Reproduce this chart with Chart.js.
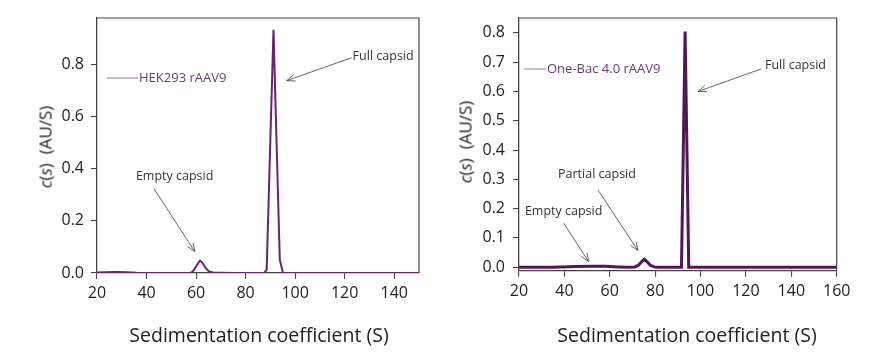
<!DOCTYPE html>
<html><head><meta charset="utf-8">
<script src="https://cdn.jsdelivr.net/npm/chart.js@4"></script>
<style>
html,body{margin:0;padding:0;background:#fff;}
#wrap{position:relative;width:886px;height:356px;overflow:hidden;font-family:"Open Sans",sans-serif;}
.panel{position:absolute;top:0;width:443px;height:356px;}
.xt{position:absolute;font-size:19.5px;color:#222;white-space:nowrap;transform:translate(-50%,-50%);}
.yt{position:absolute;font-size:17px;color:#222;white-space:nowrap;transform:translate(-50%,-50%) rotate(-90deg);}
</style></head>
<body><div id="wrap">
<div class="panel" style="left:0"><canvas id="c1" width="443" height="356"></canvas></div>
<div class="panel" style="left:443px"><canvas id="c2" width="443" height="356"></canvas></div>
<div class="xt" style="left:259px;top:334px">Sedimentation coefficient (S)</div>
<div class="xt" style="left:687px;top:334px">Sedimentation coefficient (S)</div>
<div class="yt" style="left:45px;top:147px"><i>c</i>(<i>s</i>)&nbsp;&nbsp;(AU/S)</div>
<div class="yt" style="left:465px;top:142px"><i>c</i>(<i>s</i>)&nbsp;&nbsp;(AU/S)</div>
</div>
<script>
// ---- Data ----
const HEK_S = [20,23,28,32,36,40,50,57,58.2,59,60,61,61.6,62.5,63.5,64.5,65.5,67,70,75,80,87.5,88.5,91.25,93.8,95.1,110,150];
const HEK_C = [0.002,0.003,0.004,0.003,0.001,0,0,0,0.002,0.01,0.025,0.04,0.047,0.04,0.025,0.012,0.005,0.002,0.001,0,0,0,0.013,0.932,0.05,0,0,0];
const BAC_S = [20,35,45,52,58,64,68,71,72.5,74,75.2,76.5,78,79.5,81,91.6,93.2,94.8,100,160];
const BAC_C = [0,0,0.002,0.003,0.003,0.001,0,0.001,0.006,0.018,0.027,0.018,0.006,0.001,0,0,0.805,0,0,0];

const HEK_XTICKS = [20,40,60,80,100,120,140];
const HEK_YTICKS = [0,0.2,0.4,0.6,0.8];
const BAC_XTICKS = [20,40,60,80,100,120,140,160];
const BAC_YTICKS = [0,0.1,0.2,0.3,0.4,0.5,0.6,0.7,0.8];

const HEK_LABEL = 'HEK293 rAAV9';
const BAC_LABEL = 'One-Bac 4.0 rAAV9';

// annotations: text anchor (left-middle) and arrow from -> to, in data units
const HEK_ANN = [
  {text:'Full capsid', tx:123.2, ty:0.829, x1:122.8, y1:0.825, x2:96.6, y2:0.737},
  {text:'Empty capsid', tx:35.7, ty:0.369, x1:43, y1:0.323, x2:59.5, y2:0.082}
];
const BAC_ANN = [
  {text:'Full capsid', tx:128.4, ty:0.689, x1:126.7, y1:0.677, x2:98.9, y2:0.600},
  {text:'Partial capsid', tx:37.2, ty:0.316, x1:54.8, y1:0.264, x2:72.4, y2:0.057},
  {text:'Empty capsid', tx:22.6, ty:0.190, x1:39.7, y1:0.150, x2:50.7, y2:0.019}
];

const FONT = '"Open Sans", sans-serif';

const framePlugin = {
  id:'frame',
  afterDraw(chart){
    const {ctx, chartArea:a} = chart;
    ctx.save();
    ctx.strokeStyle = '#444'; ctx.lineWidth = 1.2;
    ctx.beginPath();
    ctx.moveTo(a.left, a.top); ctx.lineTo(a.right, a.top); ctx.lineTo(a.right, a.bottom);
    ctx.stroke();
    ctx.restore();
  }
};

const annPlugin = {
  id:'ann',
  afterDatasetsDraw(chart, args, opts){
    const {ctx} = chart; const x = chart.scales.x, y = chart.scales.y;
    ctx.save();
    ctx.font = '12.5px ' + FONT; ctx.fillStyle = '#333';
    ctx.textBaseline = 'middle'; ctx.textAlign = 'left';
    ctx.strokeStyle = '#555'; ctx.lineWidth = 0.9;
    for (const a of (opts.items||[])) {
      ctx.fillText(a.text, x.getPixelForValue(a.tx), y.getPixelForValue(a.ty));
      const px1 = x.getPixelForValue(a.x1), py1 = y.getPixelForValue(a.y1);
      const px2 = x.getPixelForValue(a.x2), py2 = y.getPixelForValue(a.y2);
      ctx.beginPath(); ctx.moveTo(px1,py1); ctx.lineTo(px2,py2); ctx.stroke();
      const ang = Math.atan2(py2-py1, px2-px1), L = 9, sp = 0.38;
      ctx.beginPath();
      ctx.moveTo(px2 - L*Math.cos(ang-sp), py2 - L*Math.sin(ang-sp));
      ctx.lineTo(px2, py2);
      ctx.lineTo(px2 - L*Math.cos(ang+sp), py2 - L*Math.sin(ang+sp));
      ctx.stroke();
    }
    // legend
    const lg = opts.legend;
    if (lg) {
      const a = chart.chartArea;
      const ly = a.top + lg.dy;
      ctx.strokeStyle = '#8d7f92'; ctx.lineWidth = 1;
      ctx.beginPath(); ctx.moveTo(a.left + lg.x0, ly); ctx.lineTo(a.left + lg.x1, ly); ctx.stroke();
      ctx.font = '13px ' + FONT; ctx.fillStyle = '#6a3a74';
      ctx.fillText(lg.text, a.left + lg.x1 + 1, ly);
    }
    ctx.restore();
  }
};

function makeChart(id, S, C, cfg){
  const pts = S.map((s,i)=>({x:s, y:C[i]}));
  return new Chart(document.getElementById(id), {
    type:'line',
    data:{datasets:[{label:cfg.label, data:pts, borderColor:cfg.color, borderWidth:cfg.lw,
      pointRadius:0, tension:0, fill:false}]},
    options:{
      responsive:false, animation:false, devicePixelRatio:1,
      layout:{padding:{top:18, right:cfg.padR, left:0, bottom:0}},
      plugins:{legend:{display:false}, tooltip:{enabled:false},
        ann:{items:cfg.ann, legend:cfg.legend}},
      scales:{
        x:{type:'linear', min:cfg.xmin, max:cfg.xmax,
          afterBuildTicks:s=>{ s.ticks = cfg.xticks.map(v=>({value:v})); },
          afterFit:s=>{ s.height = cfg.xh; },
          grid:{drawOnChartArea:false, drawTicks:true, tickLength:6, color:'#444', lineWidth:1.1},
          border:{display:true, color:'#444', width:1.3},
          ticks:{font:{family:FONT, size:16}, color:'#222', padding:5, maxRotation:0, autoSkip:false,
            callback:v=>String(v)}
        },
        y:{type:'linear', min:cfg.ymin, max:cfg.ymax,
          afterBuildTicks:s=>{ s.ticks = cfg.yticks.map(v=>({value:v})); },
          afterFit:s=>{ s.width = cfg.yw; },
          grid:{drawOnChartArea:false, drawTicks:true, tickLength:6, color:'#444', lineWidth:1.1},
          border:{display:true, color:'#444', width:1.3},
          ticks:{font:{family:FONT, size:16}, color:'#222', padding:cfg.ypad, autoSkip:false,
            callback:v=>Number(v).toFixed(1)}
        }
      }
    },
    plugins:[framePlugin, annPlugin]
  });
}

makeChart('c1', HEK_S, HEK_C, {label:HEK_LABEL, color:'#6c1f74', lw:2,
  xmin:20, xmax:150, ymin:0, ymax:0.977, xticks:HEK_XTICKS, yticks:HEK_YTICKS,
  xh:83, yw:97, padR:24, ypad:7, ann:HEK_ANN,
  legend:{text:HEK_LABEL, x0:10, x1:41, dy:60}});
makeChart('c2', BAC_S, BAC_C, {label:BAC_LABEL, color:'#541656', lw:3,
  xmin:20, xmax:160, ymin:-0.012, ymax:0.851, xticks:BAC_XTICKS, yticks:BAC_YTICKS,
  xh:85.3, yw:76, padR:49.3, ypad:8, ann:BAC_ANN,
  legend:{text:BAC_LABEL, x0:5, x1:27, dy:51}});
</script>
</body></html>
